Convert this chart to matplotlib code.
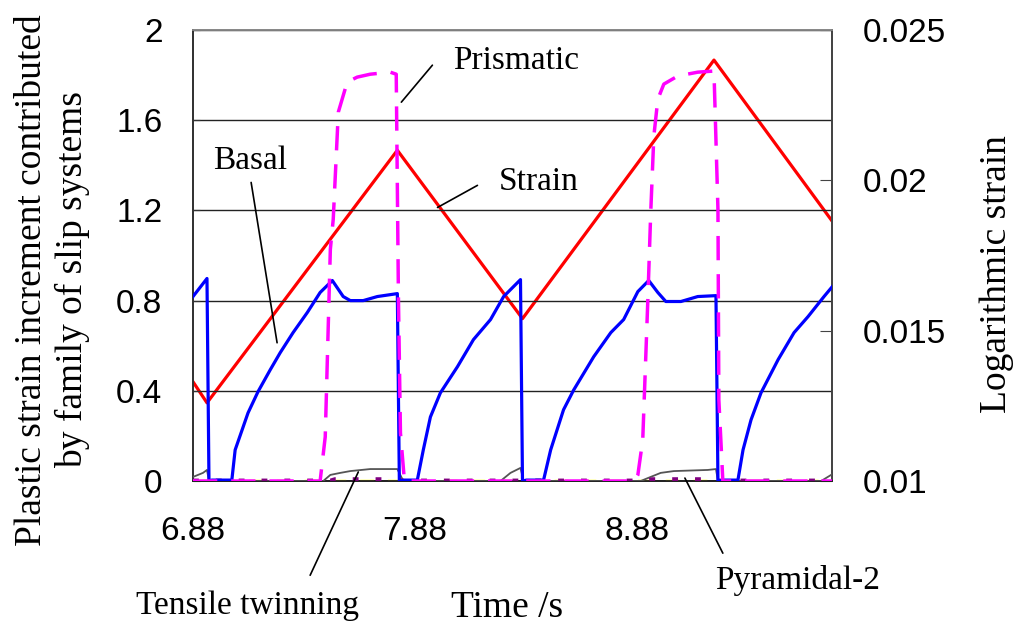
import numpy as np
import matplotlib
matplotlib.use("Agg")
import matplotlib.pyplot as plt

# =========================
# Data
# =========================
# Logarithmic strain (right axis)
strain_t = [6.880, 6.943, 7.801, 8.365, 9.228, 9.765]
strain_v = [0.0133, 0.0126, 0.0210, 0.0154, 0.0240, 0.0186]

# Basal
basal_t = [6.880, 6.943, 6.952, 6.965, 7.055, 7.070, 7.128, 7.173, 7.228, 7.273,
           7.331, 7.395, 7.453, 7.508, 7.557, 7.589, 7.647, 7.711, 7.801, 7.810,
           7.833, 7.891, 7.918, 7.950, 7.995, 8.072, 8.144, 8.221, 8.280, 8.356,
           8.365, 8.383, 8.460, 8.492, 8.550, 8.596, 8.686, 8.763, 8.821, 8.885,
           8.934, 8.975, 9.011, 9.079, 9.155, 9.237, 9.246, 9.273, 9.336, 9.359,
           9.395, 9.440, 9.517, 9.589, 9.652, 9.724, 9.769]
basal_v = [0.818, 0.898, 0.0, 0.004, 0.004, 0.138, 0.302, 0.396, 0.493, 0.569,
           0.658, 0.747, 0.836, 0.889, 0.818, 0.800, 0.800, 0.818, 0.831, 0.0,
           0.004, 0.004, 0.138, 0.284, 0.391, 0.507, 0.627, 0.716, 0.818, 0.893,
           0.0, 0.004, 0.004, 0.138, 0.316, 0.404, 0.551, 0.658, 0.716, 0.840,
           0.889, 0.836, 0.796, 0.796, 0.818, 0.822, 0.0, 0.004, 0.004, 0.138,
           0.271, 0.391, 0.538, 0.658, 0.729, 0.818, 0.871]

# Prismatic
prism_t = [6.880, 7.453, 7.476, 7.499, 7.512, 7.535, 7.575, 7.620, 7.679, 7.769,
           7.796, 7.806, 7.815, 7.833, 8.870, 8.885, 8.907, 8.930, 8.943, 8.957,
           8.975, 9.002, 9.065, 9.155, 9.228, 9.246, 9.250, 9.259, 9.268, 9.765]
prism_v = [0.0, 0.0, 0.196, 1.027, 1.160, 1.636, 1.769, 1.791, 1.804, 1.813,
           1.804, 0.804, 0.213, 0.0, 0.0, 0.027, 0.182, 0.804, 1.191, 1.529,
           1.693, 1.760, 1.796, 1.813, 1.818, 1.204, 0.360, 0.182, 0.0, 0.0]

# Tensile twinning
twin_t = [6.880, 6.925, 6.943, 6.952, 7.467, 7.499, 7.544, 7.589, 7.679, 7.801,
          7.828, 8.266, 8.311, 8.356, 8.370, 8.898, 8.930, 8.988, 9.047, 9.200,
          9.237, 9.246, 9.711, 9.756, 9.769]
twin_v = [0.018, 0.036, 0.049, 0.0, 0.0, 0.027, 0.036, 0.044, 0.053, 0.053,
          0.0, 0.0, 0.036, 0.058, 0.0, 0.0, 0.013, 0.036, 0.044, 0.049,
          0.053, 0.0, 0.0, 0.027, 0.040]

# Pyramidal-2
pyr2_t = [6.880, 7.500, 7.520, 7.800, 7.820, 8.930, 8.950, 9.230, 9.250, 9.765]
pyr2_v = [0.0, 0.0, 0.006, 0.006, 0.0, 0.0, 0.006, 0.006, 0.0, 0.0]

# Pyramidal-1 (yellow, stays at zero)
pyr1_t = [6.880, 9.765]
pyr1_v = [0.0, 0.0]

x_ticks = [6.88, 7.88, 8.88]
y_ticks = [0, 0.4, 0.8, 1.2, 1.6, 2.0]
y2_ticks = [0.01, 0.015, 0.02, 0.025]

# =========================
# Style
# =========================
SERIF = ["Liberation Serif", "DejaVu Serif"]
SANS = ["Liberation Sans", "DejaVu Sans"]
plt.rcParams.update({"font.family": SANS})

fig = plt.figure(figsize=(10.19, 6.26), dpi=100)
ax = fig.add_axes([193 / 1019, 145 / 626, 639 / 1019, 451 / 626])
ax2 = ax.twinx()
ax.set_zorder(ax2.get_zorder() + 1)
ax.patch.set_visible(False)

# right axis: strain
ax2.plot(strain_t, strain_v, color="#ff0000", lw=2.3)
ax2.set_ylim(0.01, 0.025)
ax2.set_yticks(y2_ticks)
ax2.set_yticklabels(["0.01", "0.015", "0.02", "0.025"])

# left axis: slip families
ax.plot(pyr1_t, pyr1_v, color="#ffff00", lw=2.5, ls=(0, (4, 4)), zorder=2)
ax.plot(twin_t, twin_v, color="#555555", lw=1.3, zorder=3)
ax.plot(pyr2_t, pyr2_v, color="#800080", lw=3.5, ls=(0, (1.2, 3.5)), zorder=3)
ax.plot(basal_t, basal_v, color="#0000ff", lw=2.3, zorder=4)
ax.plot(prism_t, prism_v, color="#ff00ff", lw=2.5, ls=(0, (7, 4)), zorder=5)

ax.set_xlim(6.88, 9.76)
ax.set_ylim(0, 2)
ax.set_xticks(x_ticks)
ax.set_xticklabels(["6.88", "7.88", "8.88"])
ax.set_yticks(y_ticks)
ax.set_yticklabels(["0", "0.4", "0.8", "1.2", "1.6", "2"])
ax.grid(axis="y", color="#222222", lw=1.0)
ax.set_axisbelow(True)

ax.tick_params(axis="x", length=0, labelsize=24, pad=25)
ax.tick_params(axis="y", direction="in", length=5, labelsize=24, pad=22, color="#333333")
ax2.tick_params(axis="y", direction="in", length=9, labelsize=24, pad=22, color="#444444")

for a in (ax, ax2):
    a.spines["top"].set_color("#888888")
    a.spines["left"].set_color("#333333")
    a.spines["right"].set_color("#444444")
    a.spines["bottom"].set_color("#222222")
    for s in a.spines.values():
        s.set_linewidth(1.3)

# axis labels
fig.text(52 / 1019, 1 - 280 / 626,
         "Plastic strain increment contributed\nby family of slip systems",
         rotation=90, ha="center", va="center", family=SERIF, fontsize=27,
         linespacing=1.2, multialignment="center")
fig.text(997 / 1019, 1 - 274 / 626, "Logarithmic strain", rotation=90,
         ha="center", va="center", family=SERIF, fontsize=27)
fig.text(507 / 1019, 1 - 608 / 626, "Time /s", ha="center", va="center",
         family=SERIF, fontsize=27)

# annotations with leader lines
notes = [
    ("Prismatic", (8.338, 1.862), (7.959, 1.844), (7.819, 1.68)),
    ("Basal", (7.137, 1.418), (7.142, 1.324), (7.259, 0.613)),
    ("Strain", (8.438, 1.329), (8.162, 1.311), (7.982, 1.213)),
    ("Tensile twinning", (7.124, -0.551), (7.408, -0.418), (7.625, 0.04)),
    ("Pyramidal-2", (9.607, -0.44), (9.268, -0.32), (9.097, 0.013)),
]
for label, txt_xy, start, end in notes:
    ax.text(*txt_xy, label, ha="center", va="center", family=SERIF,
            fontsize=24, clip_on=False, zorder=10)
    ax.annotate("", xy=end, xytext=start, annotation_clip=False,
                arrowprops=dict(arrowstyle="-", color="black", lw=1.2,
                                shrinkA=0, shrinkB=0), zorder=10)

fig.savefig("out.png", dpi=100)
